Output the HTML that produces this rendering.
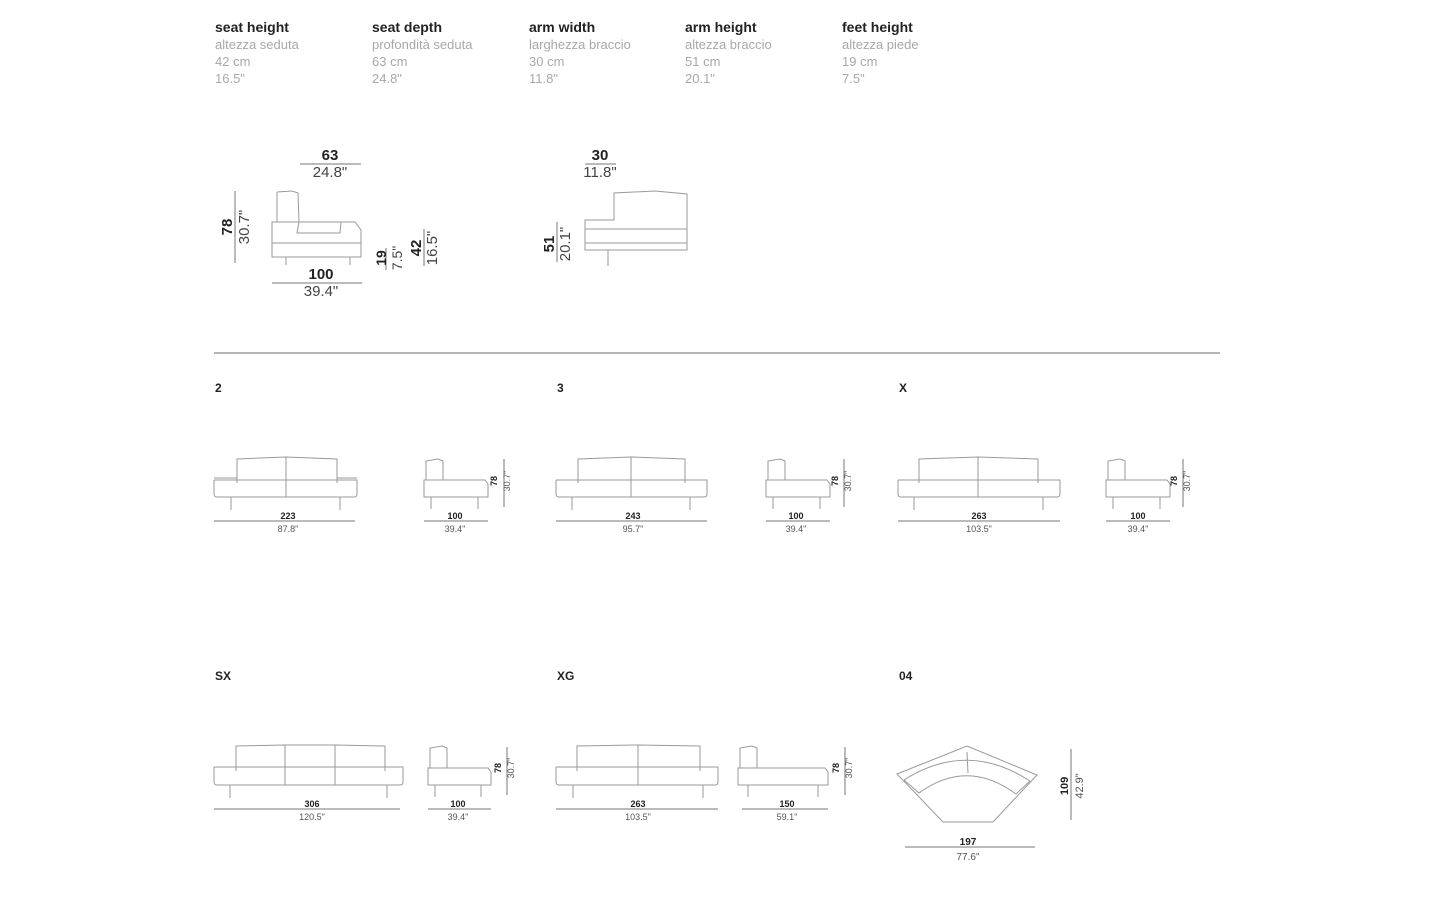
<!DOCTYPE html>
<html><head><meta charset="utf-8"><style>
html,body{margin:0;padding:0;background:#fff;width:1440px;height:900px;overflow:hidden}
svg{display:block;font-family:"Liberation Sans",Arial,sans-serif}
.s{fill:none;stroke:#9a9a9a;stroke-width:1}
.d{stroke:#777;stroke-width:1}
.b{font-weight:bold;fill:#222}
.g{fill:#777}
</style></head><body>
<svg width="1440" height="900" viewBox="0 0 1440 900">
<!-- header -->
<g font-size="14">
<text x="215" y="32" class="b">seat height</text>
<text x="372" y="32" class="b">seat depth</text>
<text x="529" y="32" class="b">arm width</text>
<text x="685" y="32" class="b">arm height</text>
<text x="842" y="32" class="b">feet height</text>
</g>
<g font-size="13" fill="#a8a8a8">
<text x="215" y="49">altezza seduta</text><text x="215" y="66">42 cm</text><text x="215" y="83">16.5"</text>
<text x="372" y="49">profondità seduta</text><text x="372" y="66">63 cm</text><text x="372" y="83">24.8"</text>
<text x="529" y="49">larghezza braccio</text><text x="529" y="66">30 cm</text><text x="529" y="83">11.8"</text>
<text x="685" y="49">altezza braccio</text><text x="685" y="66">51 cm</text><text x="685" y="83">20.1"</text>
<text x="842" y="49">altezza piede</text><text x="842" y="66">19 cm</text><text x="842" y="83">7.5"</text>
</g>

<!-- top side view -->
<path class="s" d="M277 192 L292 191 L298 193 L299 222 M277 192 L277 222 M272 222 L355 222 L361 230 L361 257 L272 257 Z M272 243 L361 243 M299 222 L297 233 L340 233 L341 222 M286 257 L286 265 M350 257 L350 265"/>
<line class="d" x1="300" y1="164" x2="361" y2="164"/>
<text x="330" y="160" text-anchor="middle" font-size="15" class="b">63</text>
<text x="330" y="177" text-anchor="middle" font-size="15" fill="#444">24.8"</text>
<line class="d" x1="235" y1="191" x2="235" y2="263"/>
<text transform="translate(232,227) rotate(-90)" text-anchor="middle" font-size="15" class="b">78</text>
<text transform="translate(249,227) rotate(-90)" text-anchor="middle" font-size="15" fill="#444">30.7"</text>
<line class="d" x1="272" y1="283" x2="362" y2="283"/>
<text x="321" y="279" text-anchor="middle" font-size="15" class="b">100</text>
<text x="321" y="296" text-anchor="middle" font-size="15" fill="#444">39.4"</text>
<line class="d" x1="386" y1="248" x2="386" y2="270"/>
<text transform="translate(386,258) rotate(-90)" text-anchor="middle" font-size="14" class="b">19</text>
<text transform="translate(402,258) rotate(-90)" text-anchor="middle" font-size="14" fill="#444">7.5"</text>
<line class="d" x1="424" y1="229" x2="424" y2="266"/>
<text transform="translate(421,248) rotate(-90)" text-anchor="middle" font-size="15" class="b">42</text>
<text transform="translate(437,248) rotate(-90)" text-anchor="middle" font-size="15" fill="#444">16.5"</text>

<!-- arm view -->
<path class="s" d="M614 220 L614 193 L655 191 L687 194 L687 250 L585 250 L585 220 Z M585 229 L687 229 M585 243 L687 243 M608 250 L608 266"/>
<line class="d" x1="585" y1="164" x2="616" y2="164"/>
<text x="600" y="160" text-anchor="middle" font-size="15" class="b">30</text>
<text x="600" y="177" text-anchor="middle" font-size="15" fill="#444">11.8"</text>
<line class="d" x1="557" y1="222" x2="557" y2="262"/>
<text transform="translate(554,244) rotate(-90)" text-anchor="middle" font-size="15" class="b">51</text>
<text transform="translate(570,244) rotate(-90)" text-anchor="middle" font-size="15" fill="#444">20.1"</text>

<line x1="214" y1="353" x2="1220" y2="353" stroke="#b5b5b5" stroke-width="2"/>

<g font-size="12" class="b">
<text x="215" y="392">2</text><text x="557" y="392">3</text><text x="899" y="392">X</text>
<text x="215" y="680">SX</text><text x="557" y="680">XG</text><text x="899" y="680">04</text>
</g>

<!-- front sofas -->
<path class="s" d="M237 483 L237 459 L286 457 L337 459 L337 483 M286 457 L286 497 M214 480 L214 494 Q214 497 217 497 L354 497 Q357 497 357 494 L357 480 L214 480 M214 478 L237 478 M337 478 L357 478 M231 497 L231 510 M340 497 L340 510"/>
<path class="s" d="M578 483 L578 459 L631 457 L685 459 L685 483 M631 457 L631 497 M556 480 L556 494 Q556 497 559 497 L704 497 Q707 497 707 494 L707 480 L556 480 M572 497 L572 510 M690 497 L690 510"/>
<path class="s" d="M919 483 L919 459 L978 457 L1038 459 L1038 483 M978 457 L978 497 M898 480 L898 494 Q898 497 901 497 L1057 497 Q1060 497 1060 494 L1060 480 L898 480 M914 497 L914 510 M1043 497 L1043 510"/>
<path class="s" d="M236 771 L236 746 L285 745 L335 745 L385 746 L385 771 M285 745 L285 785 M335 745 L335 785 M214 767 L214 782 Q214 785 217 785 L400 785 Q403 785 403 782 L403 767 L214 767 M230 785 L230 798 M387 785 L387 798"/>
<path class="s" d="M577 771 L577 746 L638 745 L700 746 L700 771 M638 745 L638 785 M556 767 L556 782 Q556 785 559 785 L715 785 Q718 785 718 782 L718 767 L556 767 M573 785 L573 798 M703 785 L703 798"/>

<!-- side views small -->
<g class="s">
<path d="M426 480 L426 461 L438 459 L443 461 L443 480 M424 480 L485 480 L488 484 L488 497 L424 497 Z M431 497 L431 509 M478 497 L478 509"/>
<path d="M768 480 L768 461 L780 459 L785 461 L785 480 M766 480 L827 480 L830 484 L830 497 L766 497 Z M773 497 L773 509 M820 497 L820 509"/>
<path d="M1108 480 L1108 461 L1120 459 L1125 461 L1125 480 M1106 480 L1167 480 L1170 484 L1170 497 L1106 497 Z M1113 497 L1113 509 M1160 497 L1160 509"/>
<path d="M430 768 L430 748 L442 746 L447 748 L447 768 M428 768 L488 768 L491 772 L491 785 L428 785 Z M435 785 L435 797 M481 785 L481 797"/>
<path d="M740 768 L740 748 L752 746 L757 748 L757 768 M738 768 L825 768 L828 772 L828 785 L738 785 Z M748 785 L748 797 M818 785 L818 797"/>
</g>

<!-- 04 corner -->
<path class="s" d="M897 774 L967 746 L1037 775 L993 822 L943 822 Z M904 780 Q967 740 1030 781 M904 780 L919 793 Q967 758 1016 794 L1030 781 M967 752 L968 773"/>
<line class="d" x1="1071" y1="749" x2="1071" y2="820"/>
<text transform="translate(1068,786) rotate(-90)" text-anchor="middle" font-size="11" class="b">109</text>
<text transform="translate(1083,786) rotate(-90)" text-anchor="middle" font-size="11" fill="#555">42.9"</text>
<line class="d" x1="905" y1="847" x2="1035" y2="847"/>
<text x="968" y="845" text-anchor="middle" font-size="10" class="b">197</text>
<text x="968" y="860" text-anchor="middle" font-size="10" fill="#555">77.6"</text>

<!-- dims row -->
<g class="d">
<line x1="214" y1="521" x2="355" y2="521"/><line x1="424" y1="521" x2="488" y2="521"/><line x1="504" y1="459" x2="504" y2="507"/>
<line x1="556" y1="521" x2="707" y2="521"/><line x1="766" y1="521" x2="830" y2="521"/><line x1="844" y1="459" x2="844" y2="507"/>
<line x1="898" y1="521" x2="1060" y2="521"/><line x1="1106" y1="521" x2="1170" y2="521"/><line x1="1183" y1="459" x2="1183" y2="507"/>
<line x1="214" y1="809" x2="400" y2="809"/><line x1="428" y1="809" x2="491" y2="809"/><line x1="507" y1="747" x2="507" y2="795"/>
<line x1="556" y1="809" x2="718" y2="809"/><line x1="742" y1="809" x2="828" y2="809"/><line x1="845" y1="747" x2="845" y2="795"/>
</g>
<g font-size="9" text-anchor="middle">
<text x="288" y="519" class="b">223</text><text x="288" y="532" fill="#555">87.8"</text>
<text x="455" y="519" class="b">100</text><text x="455" y="532" fill="#555">39.4"</text>
<text x="633" y="519" class="b">243</text><text x="633" y="532" fill="#555">95.7"</text>
<text x="796" y="519" class="b">100</text><text x="796" y="532" fill="#555">39.4"</text>
<text x="979" y="519" class="b">263</text><text x="979" y="532" fill="#555">103.5"</text>
<text x="1138" y="519" class="b">100</text><text x="1138" y="532" fill="#555">39.4"</text>
<text x="312" y="807" class="b">306</text><text x="312" y="820" fill="#555">120.5"</text>
<text x="458" y="807" class="b">100</text><text x="458" y="820" fill="#555">39.4"</text>
<text x="638" y="807" class="b">263</text><text x="638" y="820" fill="#555">103.5"</text>
<text x="787" y="807" class="b">150</text><text x="787" y="820" fill="#555">59.1"</text>
</g>
<g font-size="9" text-anchor="middle">
<text transform="translate(497,481) rotate(-90)" class="b">78</text><text transform="translate(510,481) rotate(-90)" fill="#555">30.7"</text>
<text transform="translate(838,481) rotate(-90)" class="b">78</text><text transform="translate(851,481) rotate(-90)" fill="#555">30.7"</text>
<text transform="translate(1177,481) rotate(-90)" class="b">78</text><text transform="translate(1190,481) rotate(-90)" fill="#555">30.7"</text>
<text transform="translate(501,768) rotate(-90)" class="b">78</text><text transform="translate(514,768) rotate(-90)" fill="#555">30.7"</text>
<text transform="translate(839,768) rotate(-90)" class="b">78</text><text transform="translate(852,768) rotate(-90)" fill="#555">30.7"</text>
</g>
</svg>
</body></html>
